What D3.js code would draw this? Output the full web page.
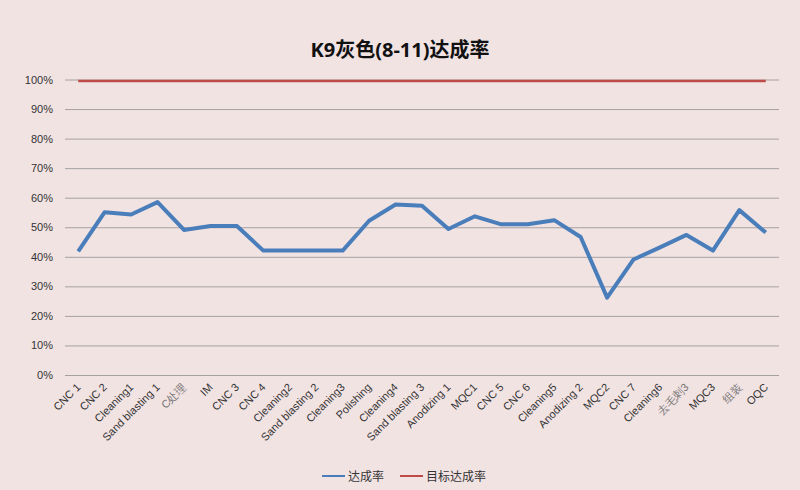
<!DOCTYPE html>
<html>
<head>
<meta charset="utf-8">
<script src="https://cdn.jsdelivr.net/npm/d3@7.9.0/dist/d3.min.js"></script>
<style>
  html, body { margin: 0; padding: 0; background: #f2e3e3; }
  svg { display: block; font-family: "Open Sans", "Noto Sans", "Noto Sans CJK SC", sans-serif; }
</style>
</head>
<body>
<svg id="chart" width="800" height="490"></svg>
<script>
// 공정 단계 (x축)
const categories = ["CNC 1", "CNC 2", "Cleaning1", "Sand blasting 1", "C处理", "IM", "CNC 3", "CNC 4",
  "Cleaning2", "Sand blasting 2", "Cleaning3", "Polishing", "Cleaning4", "Sand blasting 3", "Anodizing 1",
  "MQC1", "CNC 5", "CNC 6", "Cleaning5", "Anodizing 2", "MQC2", "CNC 7", "Cleaning6", "去毛刺3", "MQC3", "组装", "OQC"];

// 달성률
const rate = [0.418, 0.551, 0.543, 0.585, 0.491, 0.504, 0.504, 0.421,
  0.421, 0.421, 0.421, 0.522, 0.577, 0.573, 0.494,
  0.537, 0.510, 0.510, 0.524, 0.467, 0.262, 0.391, 0.432, 0.474, 0.421, 0.558, 0.482];

// 목표 달성률
const target = categories.map(() => 0.995);

const yTicks = [0, 0.1, 0.2, 0.3, 0.4, 0.5, 0.6, 0.7, 0.8, 0.9, 1.0];
const seriesNames = ["达成率", "目标达成率"];
const colors = ["#4a7ebb", "#be4b48"];

const svg = d3.select("#chart");
const margin = { left: 65, right: 21, top: 79.5, bottom: 115 };
const W = 800, H = 490;

const x = d3.scaleBand().domain(categories).range([margin.left, W - margin.right]);
const y = d3.scaleLinear().domain([0, 1]).range([H - margin.bottom, margin.top]);

// 제목
svg.append("text")
  .attr("x", 400).attr("y", 57)
  .attr("text-anchor", "middle")
  .attr("font-size", 20).attr("font-weight", "bold")
  .attr("fill", "#111")
  .text("K9灰色(8-11)达成率");

// 격자선 + y축 라벨
const yAxis = d3.axisLeft(y).tickValues(yTicks)
  .tickSize(-(W - margin.left - margin.right))
  .tickPadding(12)
  .tickFormat(d3.format(".0%"));

svg.append("g")
  .attr("transform", `translate(${margin.left},0)`)
  .call(yAxis)
  .call(g => g.select(".domain").remove())
  .call(g => g.selectAll(".tick line").attr("stroke", "#a6a0a0").attr("stroke-width", 1))
  .call(g => g.selectAll(".tick text").attr("font-size", 11).attr("fill", "#333"));

// x축 라벨
const xAxis = d3.axisBottom(x).tickSize(0).tickPadding(0);
svg.append("g")
  .attr("transform", `translate(0,${H - margin.bottom})`)
  .call(xAxis)
  .call(g => g.select(".domain").remove())
  .call(g => g.selectAll(".tick text")
    .attr("font-size", 11)
    .attr("fill", d => /[\u4e00-\u9fff]/.test(d) ? "#777" : "#333")
    .attr("text-anchor", "end")
    .attr("dy", 0)
    .attr("transform", "translate(3,13) rotate(-45)"));

const line = d3.line()
  .x((d, i) => x(categories[i]) + x.bandwidth() / 2)
  .y(d => y(d));

[target, rate].forEach((vals, k) => {
  svg.append("path")
    .datum(vals)
    .attr("fill", "none")
    .attr("stroke", k === 0 ? colors[1] : colors[0])
    .attr("stroke-width", k === 0 ? 2.5 : 4)
    .attr("stroke-linejoin", "round")
    .attr("d", line);
});

// 범례
const legend = svg.append("g").attr("transform", "translate(322,476)");
const legendX = [0, 78];
seriesNames.forEach((name, i) => {
  const g = legend.append("g").attr("transform", `translate(${legendX[i]},0)`);
  g.append("line").attr("x1", 0).attr("x2", 23).attr("y1", 0).attr("y2", 0)
    .attr("stroke", colors[i]).attr("stroke-width", 2);
  g.append("text").attr("x", 26).attr("y", 4.5)
    .attr("font-size", 12).attr("fill", "#333").text(name);
});
</script>
</body>
</html>
